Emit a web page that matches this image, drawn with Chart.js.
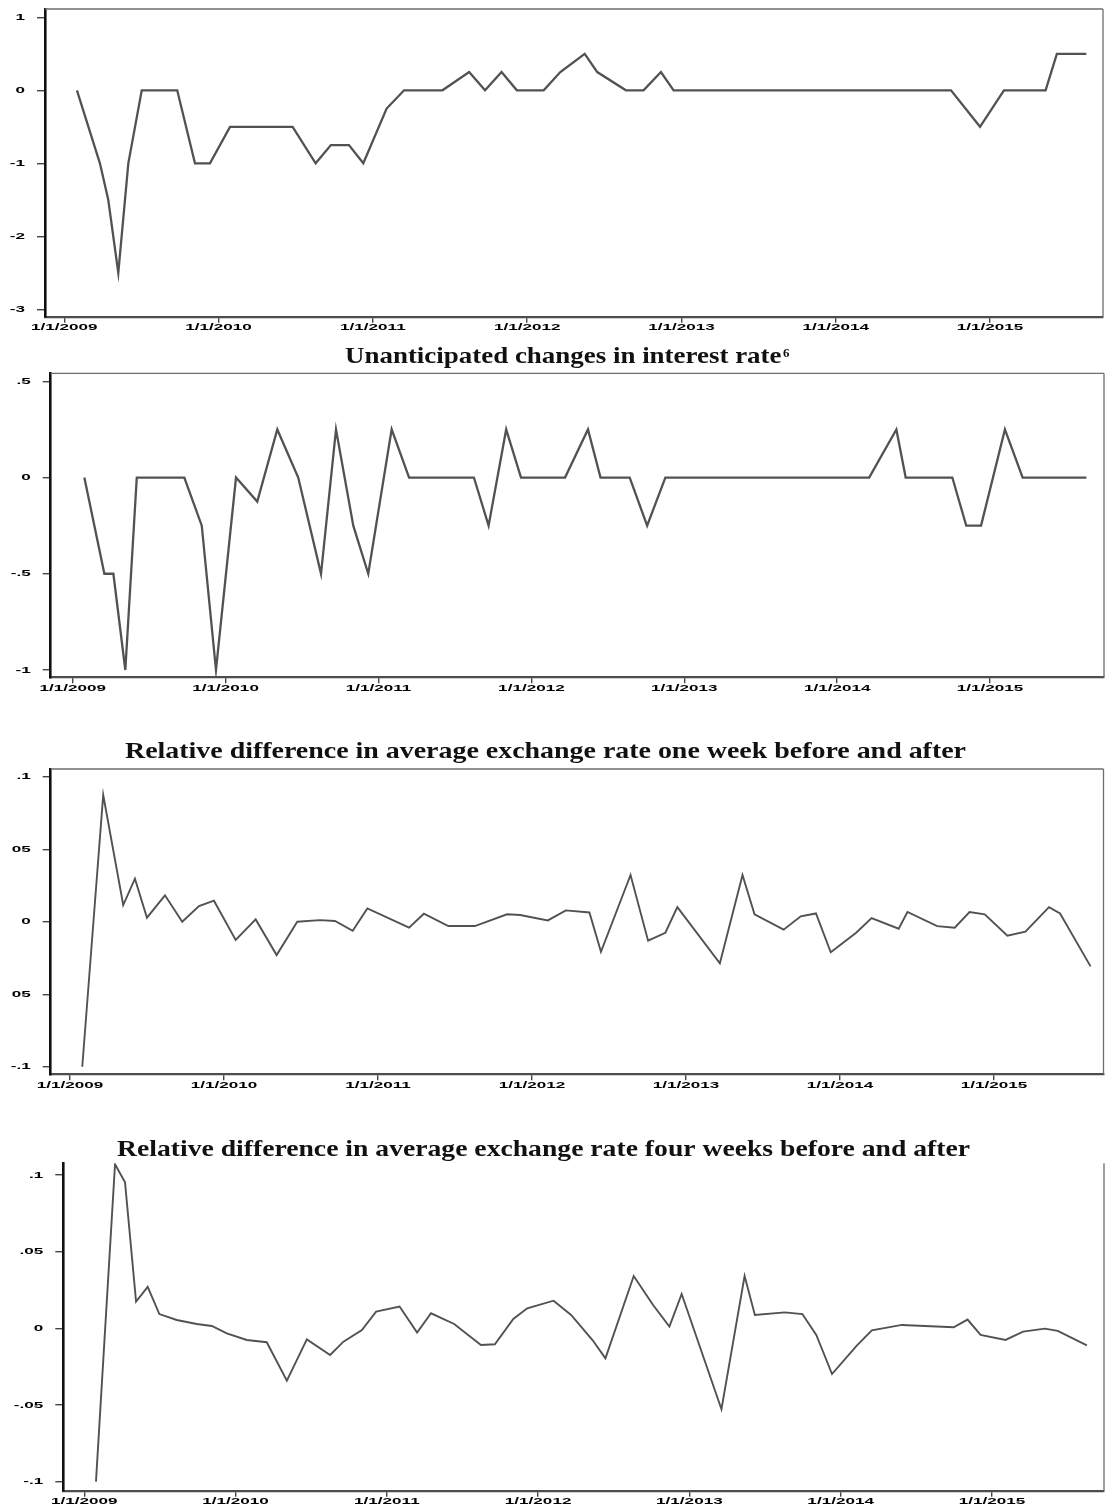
<!DOCTYPE html>
<html>
<head>
<meta charset="utf-8">
<title>Interest rate surprises and exchange rate reactions</title>
<script src="https://cdn.jsdelivr.net/npm/chart.js@4.4.1/dist/chart.umd.min.js"></script>
<style>
  html, body { margin: 0; padding: 0; background: #ffffff; }
  #page { position: relative; width: 1105px; height: 1508px; overflow: hidden; background: #ffffff; }
  #page canvas { position: absolute; left: 0; }
</style>
</head>
<body>
<div id="page">
  <canvas id="c1" width="1105" height="345" style="top:0px"></canvas>
  <canvas id="c2" width="1105" height="370" style="top:335px"></canvas>
  <canvas id="c3" width="1105" height="380" style="top:725px"></canvas>
  <canvas id="c4" width="1105" height="388" style="top:1120px"></canvas>
</div>
<script>
// ---- shared time axis (dates as decimal years) ----
const xTickYears  = [2009, 2010, 2011, 2012, 2013, 2014, 2015];
const xTickLabels = ['1/1/2009', '1/1/2010', '1/1/2011', '1/1/2012', '1/1/2013', '1/1/2014', '1/1/2015'];

// ---- panel 1: change in the policy rate ----
const p1Dates = [2009.082, 2009.231, 2009.285, 2009.350, 2009.415, 2009.502, 2009.732, 2009.847, 2009.944,
  2010.074, 2010.480, 2010.629, 2010.728, 2010.845, 2010.938, 2011.089, 2011.202, 2011.451, 2011.624,
  2011.727, 2011.834, 2011.933, 2012.107, 2012.215, 2012.373, 2012.454, 2012.640, 2012.754, 2012.867,
  2012.949, 2014.747, 2014.935, 2015.090, 2015.360, 2015.433, 2015.624];
const p1Values = [0, -1, -1.5, -2.5, -1, 0, 0, -1, -1,
  -0.5, -0.5, -1, -0.75, -0.75, -1, -0.25, 0, 0, 0.25,
  0, 0.25, 0, 0, 0.25, 0.5, 0.25, 0, 0, 0.25,
  0, 0, -0.5, 0, 0, 0.5, 0.5];
const p1YTicks = [1, 0, -1, -2, -3];
const p1YLabels = ['1', '0', '-1', '-2', '-3'];

// ---- panel 2: unanticipated changes in interest rate ----
const p2Dates = [2009.076, 2009.207, 2009.266, 2009.344, 2009.419, 2009.730, 2009.844, 2009.937, 2010.068,
  2010.207, 2010.338, 2010.475, 2010.624, 2010.722, 2010.835, 2010.933, 2011.086, 2011.200, 2011.624,
  2011.720, 2011.835, 2011.932, 2012.220, 2012.370, 2012.452, 2012.643, 2012.757, 2012.876, 2014.209,
  2014.387, 2014.448, 2014.753, 2014.844, 2014.941, 2015.097, 2015.213, 2015.630];
const p2Values = [0, -0.5, -0.5, -1, 0, 0, -0.25, -1, 0,
  -0.125, 0.25, 0, -0.5, 0.25, -0.25, -0.5, 0.25, 0, 0,
  -0.25, 0.25, 0, 0, 0.25, 0, 0, -0.25, 0, 0,
  0.25, 0, 0, -0.25, -0.25, 0.25, 0, 0];
const p2YTicks = [0.5, 0, -0.5, -1];
const p2YLabels = ['.5', '0', '-.5', '-1'];

// ---- panel 3: relative difference, one week before and after ----
const p3Dates = [2009.080, 2009.216, 2009.346, 2009.422, 2009.500, 2009.617, 2009.729, 2009.838, 2009.935,
  2010.076, 2010.206, 2010.342, 2010.476, 2010.623, 2010.721, 2010.836, 2010.931, 2011.202, 2011.298,
  2011.457, 2011.629, 2011.838, 2011.923, 2012.103, 2012.220, 2012.373, 2012.448, 2012.640, 2012.754,
  2012.866, 2012.944, 2013.220, 2013.367, 2013.445, 2013.634, 2013.745, 2013.844, 2013.940, 2014.105,
  2014.205, 2014.381, 2014.438, 2014.631, 2014.745, 2014.841, 2014.940, 2015.087, 2015.204, 2015.357,
  2015.429, 2015.627];
const p3Values = [-0.1, 0.0874, 0.0115, 0.0297, 0.0028, 0.0182, 0.0, 0.0108, 0.0145,
  -0.0126, 0.0016, -0.023, 0.0, 0.0011, 0.0005, -0.0062, 0.0092, -0.0041, 0.0055,
  -0.003, -0.003, 0.0051, 0.0046, 0.0009, 0.0078, 0.0064, -0.0207, 0.0322, -0.0131,
  -0.0076, 0.0101, -0.0287, 0.0322, 0.0051, -0.0055, 0.0037, 0.0057, -0.0211, -0.0076,
  0.0025, -0.0048, 0.0067, -0.003, -0.0041, 0.0067, 0.0051, -0.0097, -0.0069, 0.0101,
  0.0057, -0.0308];
const p3YTicks = [0.1, 0.05, 0, -0.05, -0.1];
const p3YLabels = ['.1', '05', '0', '05', '-.1'];

// ---- panel 4: relative difference, four weeks before and after ----
const p4Dates = [2009.077, 2009.203, 2009.269, 2009.342, 2009.419, 2009.496, 2009.611, 2009.743, 2009.843,
  2009.942, 2010.074, 2010.206, 2010.339, 2010.471, 2010.625, 2010.713, 2010.835, 2010.929, 2011.084,
  2011.200, 2011.292, 2011.445, 2011.622, 2011.714, 2011.836, 2011.928, 2012.102, 2012.218, 2012.362,
  2012.445, 2012.632, 2012.760, 2012.868, 2012.949, 2013.212, 2013.365, 2013.433, 2013.631, 2013.747,
  2013.839, 2013.943, 2014.105, 2014.206, 2014.405, 2014.747, 2014.839, 2014.925, 2015.090, 2015.206,
  2015.350, 2015.435, 2015.628];
const p4Values = [-0.1, 0.107, 0.0952, 0.0174, 0.027, 0.0093, 0.0054, 0.0028, 0.0015,
  -0.0033, -0.0076, -0.0091, -0.0341, -0.0072, -0.0174, -0.0087, -0.0011, 0.0109, 0.0142,
  -0.0028, 0.0098, 0.0028, -0.0109, -0.0104, 0.0061, 0.013, 0.018, 0.0087, -0.008,
  -0.0196, 0.0341, 0.0152, 0.0011, 0.0224, -0.0528, 0.0341, 0.0087, 0.0104, 0.0093,
  -0.0043, -0.0298, -0.0115, -0.0013, 0.0022, 0.0007, 0.0057, -0.0043, -0.0076, -0.0022,
  -0.0002, -0.0017, -0.0111];
const p4YTicks = [0.1, 0.05, 0, -0.05, -0.1];
const p4YLabels = ['.1', '.05', '0', '-.05', '-.1'];

// ---- page geometry of each panel (canvas top, plot box in page pixels) ----
const panels = [
  { id: 'c1', top: 0, height: 345,
    box: { left: 45, right: 1103, top: 9, bottom: 316.7 }, topRule: true,
    x: [2008.875, 2015.732], y: [-3.101, 1.114],
    dates: p1Dates, values: p1Values, yTicks: p1YTicks, yLabels: p1YLabels, lineWidth: 2.3, title: null },
  { id: 'c2', top: 335, height: 370,
    box: { left: 50.7, right: 1104, top: 373.3, bottom: 677.3 }, topRule: true,
    x: [2008.856, 2015.745], y: [-1.038, 0.5416],
    dates: p2Dates, values: p2Values, yTicks: p2YTicks, yLabels: p2YLabels, lineWidth: 2.3,
    title: { text: 'Unanticipated changes in interest rate', sup: '6', left: 345, right: 781.5, baseline: 363.3 } },
  { id: 'c3', top: 725, height: 380,
    box: { left: 50.7, right: 1103.5, top: 769, bottom: 1074.3 }, topRule: true,
    x: [2008.875, 2015.711], y: [-0.1052, 0.1053],
    dates: p3Dates, values: p3Values, yTicks: p3YTicks, yLabels: p3YLabels, lineWidth: 1.9,
    title: { text: 'Relative difference in average exchange rate one week before and after', left: 125, right: 966, baseline: 758 } },
  { id: 'c4', top: 1120, height: 388,
    box: { left: 63.3, right: 1104, top: 1163.3, bottom: 1490.7 }, topRule: false,
    x: [2008.861, 2015.741], y: [-0.1059, 0.1076],
    dates: p4Dates, values: p4Values, yTicks: p4YTicks, yLabels: p4YLabels, lineWidth: 1.9,
    title: { text: 'Relative difference in average exchange rate four weeks before and after', left: 117, right: 970, baseline: 1156 } }
];

const LABEL_STRETCH = 1.8;

function stretchedText(ctx, text, x, y, align, stretch) {
  ctx.save();
  ctx.translate(x, y);
  ctx.scale(stretch, 1);
  ctx.textAlign = align;
  ctx.fillText(text, 0, 0);
  ctx.restore();
}

// Tick labels, frame rules and panel headings
const panelDecor = {
  id: 'panelDecor',
  afterDraw(chart, args, o) {
    const ctx = chart.ctx;
    const xs = chart.scales.x, ys = chart.scales.y;
    const a = chart.chartArea;

    // thin rules closing the plot box
    ctx.save();
    ctx.strokeStyle = '#6e6e6e';
    ctx.lineWidth = 1.3;
    ctx.beginPath();
    if (o.topRule) { ctx.moveTo(a.left, a.top); ctx.lineTo(a.right, a.top); }
    ctx.moveTo(a.right, a.top); ctx.lineTo(a.right, a.bottom);
    ctx.stroke();
    ctx.restore();

    // axis labels, drawn wide like the original figure
    ctx.save();
    ctx.fillStyle = '#000000';
    ctx.font = 'bold 9.5px "Liberation Sans", Arial, sans-serif';
    ctx.textBaseline = 'middle';
    xTickYears.forEach((v, i) => {
      stretchedText(ctx, xTickLabels[i], xs.getPixelForValue(v), a.bottom + 11, 'center', LABEL_STRETCH);
    });
    o.yTicks.forEach((v, i) => {
      stretchedText(ctx, o.yLabels[i], a.left - 20, ys.getPixelForValue(v), 'right', LABEL_STRETCH);
    });
    ctx.restore();

    // heading above the panel
    const t = o.title;
    if (t) {
      ctx.save();
      ctx.fillStyle = '#111111';
      ctx.textBaseline = 'alphabetic';
      ctx.font = 'bold 23.5px "Liberation Serif", "Times New Roman", serif';
      const w = ctx.measureText(t.text).width;
      const k = (t.right - t.left) / w;
      const by = t.baseline - o.canvasTop;
      stretchedText(ctx, t.text, t.left, by, 'left', k);
      if (t.sup) {
        ctx.font = 'bold 13px "Liberation Serif", "Times New Roman", serif';
        ctx.textAlign = 'left';
        ctx.fillText(t.sup, t.right + 1.5, by - 6.5);
      }
      ctx.restore();
    }
  }
};

panels.forEach(p => {
  const points = p.dates.map((d, i) => ({ x: d, y: p.values[i] }));
  const ctx = document.getElementById(p.id).getContext('2d');
  new Chart(ctx, {
    type: 'line',
    data: {
      datasets: [{
        data: points,
        borderColor: '#525252',
        borderWidth: p.lineWidth,
        pointRadius: 0,
        tension: 0,
        fill: false,
        borderJoinStyle: 'miter'
      }]
    },
    options: {
      responsive: false,
      animation: false,
      events: [],
      layout: {
        padding: { left: 0, right: 1105 - p.box.right, top: p.box.top - p.top, bottom: 0 }
      },
      plugins: {
        legend: { display: false },
        title: { display: false },
        tooltip: { enabled: false },
        panelDecor: {
          topRule: p.topRule, yTicks: p.yTicks, yLabels: p.yLabels,
          title: p.title, canvasTop: p.top
        }
      },
      scales: {
        x: {
          type: 'linear',
          min: p.x[0], max: p.x[1],
          afterBuildTicks: s => { s.ticks = xTickYears.map(v => ({ value: v })); },
          afterFit: s => { s.height = p.height - (p.box.bottom - p.top); },
          ticks: { display: false },
          grid: { display: true, drawOnChartArea: false, drawTicks: true, tickLength: 6, tickColor: '#444', lineWidth: 1.4 },
          border: { display: true, color: '#4d4d4d', width: 2.2 }
        },
        y: {
          type: 'linear',
          min: p.y[0], max: p.y[1],
          afterBuildTicks: s => { s.ticks = p.yTicks.map(v => ({ value: v })); },
          afterFit: s => { s.width = p.box.left; },
          ticks: { display: false },
          grid: { display: true, drawOnChartArea: false, drawTicks: true, tickLength: 8, tickColor: '#444', lineWidth: 1.4 },
          border: { display: true, color: '#111', width: 2.6 }
        }
      }
    },
    plugins: [panelDecor]
  });
});
</script>
</body>
</html>
